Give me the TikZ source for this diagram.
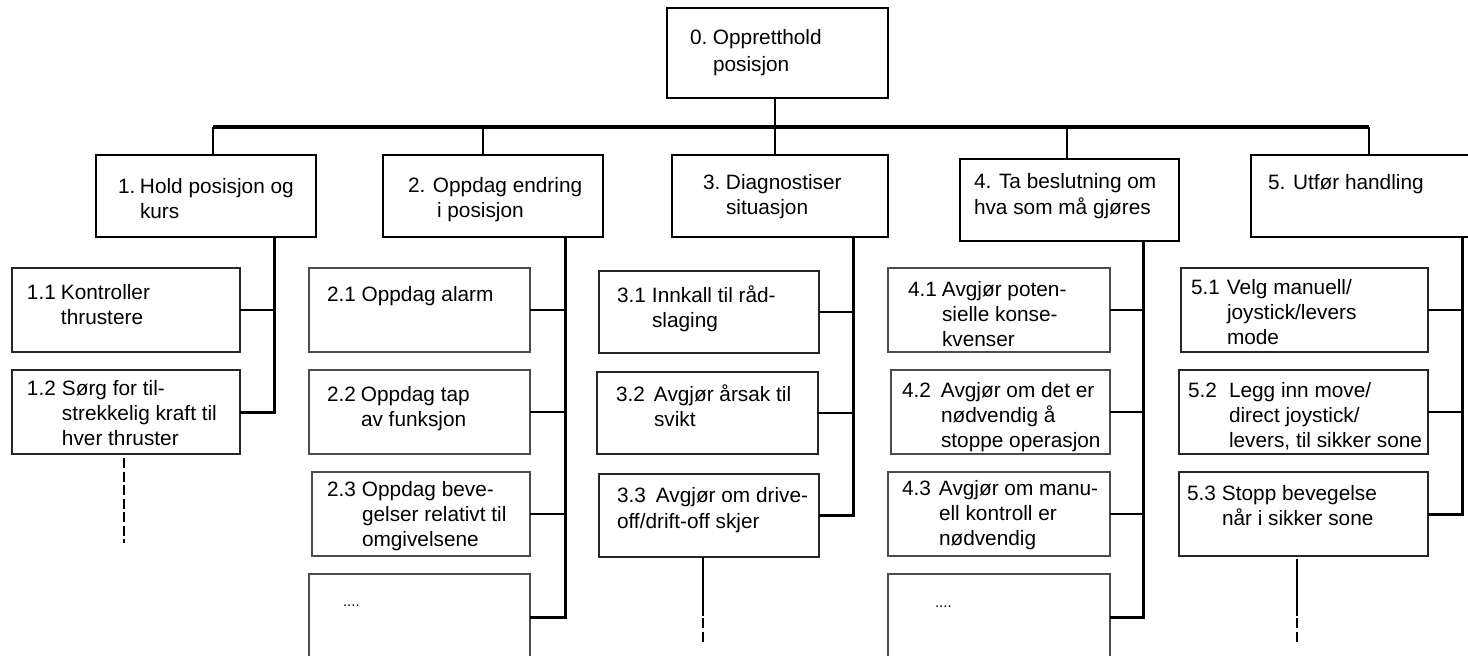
\documentclass[tikz,border=0pt]{standalone}
\usepackage{fontspec}
\setmainfont{Liberation Sans}
\newcommand\tb[2]{\begin{tabular}[t]{@{}p{#1}@{}l@{}}#2\end{tabular}}
\newcommand\tl[1]{\begin{tabular}[t]{@{}l@{}}#1\end{tabular}}
\tikzset{
  every node/.style={font=\fontsize{20.8}{25}\selectfont, inner sep=0pt, outer sep=0pt},
  topbox/.style={draw=black, line width=1.6pt, fill=white},
  subbox/.style={draw=black!70, line width=2.2pt, fill=white},
  subboxdark/.style={draw=black!85, line width=1.9pt, fill=white},
  txt/.style={anchor=base west},
  dots/.style={anchor=base west, font=\fontsize{15}{18}\selectfont},
  bar/.style={line width=3.4pt},
  stem/.style={line width=1.5pt},
  col/.style={line width=3pt},
  stub/.style={line width=1.8pt},
  tail/.style={line width=1.6pt},
  tailbreak/.style={line width=1.6pt, dash pattern=on 10pt off 3.5pt},
}
\newcommand\bx[6]{\node[#6, minimum width={#4-#2}, minimum height={#5-#3}] (#1) at ({(#2+#4)/2},{(#3+#5)/2}) {};}
\begin{document}
\begin{tikzpicture}[x=1pt,y=-1pt]
\useasboundingbox (0,0) rectangle (1468,656);
\clip (0,0) rectangle (1468,656);
\fill[white] (0,0) rectangle (1468,656);

% level 0 and 1 boxes
\bx{n0}{667}{8}{888}{98}{topbox}
\bx{n1}{96}{155}{316}{237}{topbox}
\bx{n2}{383}{155}{603}{237}{topbox}
\bx{n3}{672}{155}{888}{237}{topbox}
\bx{n4}{960}{159}{1179}{241}{topbox}
\bx{n5}{1251}{155}{1474}{237}{topbox}

% level 2 boxes
\bx{b11}{12}{268}{240}{352}{subboxdark}
\bx{b12}{12}{370}{240}{454}{subboxdark}
\bx{b21}{309}{268}{530}{352}{subbox}
\bx{b22}{309}{370}{530}{454}{subbox}
\bx{b23}{312}{472}{530}{556}{subbox}
\bx{b24}{309}{574}{530}{660}{subbox}
\bx{b31}{599}{271}{819}{353}{subboxdark}
\bx{b32}{597}{372}{818}{454}{subboxdark}
\bx{b33}{599}{474}{819}{557}{subboxdark}
\bx{b41}{888}{268}{1110}{352}{subbox}
\bx{b42}{891}{370}{1110}{454}{subbox}
\bx{b43}{888}{472}{1110}{556}{subbox}
\bx{b44}{888}{574}{1110}{660}{subbox}
\bx{b51}{1181}{268}{1428}{352}{subboxdark}
\bx{b52}{1179}{370}{1428}{454}{subboxdark}
\bx{b53}{1179}{472}{1428}{556}{subboxdark}

% texts
\node[txt] (t0) at (690,44) {\tb{23pt}{0. & Oppretthold\\[2pt] & posisjon}};
\node[txt] (t1) at (118,193) {\tb{22pt}{1. & Hold posisjon og\\ & kurs}};
\node[txt] (t2) at (408,192) {\tb{25pt}{2. & Oppdag endring\\ & \hspace{4pt}i posisjon}};
\node[txt] (t3) at (703,189) {\tb{23pt}{3. & Diagnostiser\\ & situasjon}};
\node[txt] (t4) at (974,188) {\tl{4. Ta beslutning om\\[1pt]hva som må gjøres}};
\node[txt] (t5) at (1268,189) {5. Utfør handling};

\node[txt] (t11) at (27,299) {\tb{34pt}{1.1 & Kontroller\\ & thrustere}};
\node[txt] (t12) at (27,395) {\tb{35pt}{1.2 & Sørg for til-\\ & strekkelig kraft til\\ & hver thruster}};
\node[txt] (t21) at (327,301) {2.1 Oppdag alarm};
\node[txt] (t22) at (327,401) {\tb{34pt}{2.2 & Oppdag tap\\ & av funksjon}};
\node[txt] (t23) at (327,496) {\tb{35pt}{2.3 & Oppdag beve-\\ & gelser relativt til\\ & omgivelsene}};
\node[dots] (t24) at (343,606) {....};
\node[txt] (t31) at (617,302) {\tb{35pt}{3.1 & Innkall til råd-\\ & slaging}};
\node[txt] (t32) at (616,401) {\tb{38pt}{3.2 & Avgjør årsak til\\ & svikt}};
\node[txt] (t33) at (617,502) {\tl{3.3\hspace{10pt}Avgjør om drive-\\[1pt]off/drift-off skjer}};
\node[txt] (t41) at (908,296) {\tb{34pt}{4.1 & Avgjør poten-\\ & sielle konse-\\ & kvenser}};
\node[txt] (t42) at (902,397) {\tb{39pt}{4.2 & Avgjør om det er\\ & nødvendig å\\ & stoppe operasjon}};
\node[txt] (t43) at (902,495) {\tb{37pt}{4.3 & Avgjør om manu-\\ & ell kontroll er\\ & nødvendig}};
\node[dots] (t44) at (935,607) {....};
\node[txt] (t51) at (1191,294) {\tb{36pt}{5.1 & Velg manuell/\\ & joystick/levers\\ & mode}};
\node[txt] (t52) at (1188,397) {\tb{41pt}{5.2 & Legg inn move/\\ & direct joystick/\\ & levers, til sikker sone}};
\node[txt] (t53) at (1187,500) {\tb{35pt}{5.3 & Stopp bevegelse\\ & når i sikker sone}};

% top level connectors
\coordinate (s1) at (213,127);
\coordinate (s2) at (483,127);
\coordinate (s3) at (775,127);
\coordinate (s4) at (1067,127);
\coordinate (s5) at (1369,127);
\draw[bar] (s1) -- (s5);
\draw[stem] (s3 |- n0.south) -- (s3 |- n3.north);
\draw[stem] (s1) -- (s1 |- n1.north);
\draw[stem] (s2) -- (s2 |- n2.north);
\draw[stem] (s4) -- (s4 |- n4.north);
\draw[stem] (s5) -- (s5 |- n5.north);

% columns
\coordinate (c1) at (274,0);
\coordinate (c2) at (565,0);
\coordinate (c3) at (853,0);
\coordinate (c4) at (1143,0);
\coordinate (c5) at (1462,0);
\draw[col] (n1.south -| c1) |- (b12.east);
\draw[stub] (b11.east) -- (b11.east -| c1);
\draw[col] (n2.south -| c2) |- (b24.east);
\draw[stub] (b21.east) -- (b21.east -| c2);
\draw[stub] (b22.east) -- (b22.east -| c2);
\draw[stub] (b23.east) -- (b23.east -| c2);
\draw[col] (n3.south -| c3) |- (b33.east);
\draw[stub] (b31.east) -- (b31.east -| c3);
\draw[stub] (b32.east) -- (b32.east -| c3);
\draw[col] (n4.south -| c4) |- (b44.east);
\draw[stub] (b41.east) -- (b41.east -| c4);
\draw[stub] (b42.east) -- (b42.east -| c4);
\draw[stub] (b43.east) -- (b43.east -| c4);
\draw[col] (n5.south -| c5) |- (b53.east);
\draw[stub] (b51.east) -- (b51.east -| c5);
\draw[stub] (b52.east) -- (b52.east -| c5);

% continuation tails
\coordinate (d1a) at (124,458);
\coordinate (d1b) at (124,543);
\draw[tailbreak] (d1a) -- (d1b);
\coordinate (d3a) at (703,616);
\coordinate (d3b) at (703,645);
\draw[tail] (b33.south -| d3a) -- (d3a);
\draw[tailbreak] (d3a) ++(0,2) -- (d3b);
\coordinate (d5a) at (1297,616);
\coordinate (d5b) at (1297,645);
\draw[tail] (b53.south -| d5a) ++(0,3) -- (d5a);
\draw[tailbreak] (d5a) ++(0,2) -- (d5b);
\end{tikzpicture}
\end{document}
